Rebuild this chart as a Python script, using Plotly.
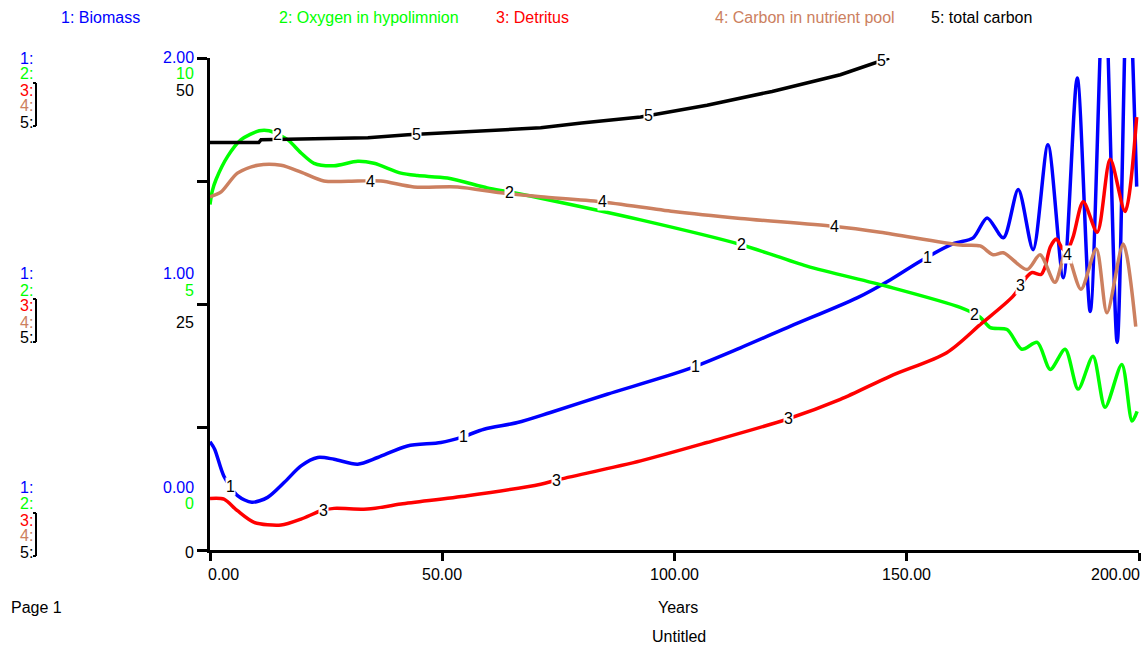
import numpy as np
import plotly.graph_objects as go

# ---------------- data ----------------
t_biomass = [0, 1, 3, 6, 9, 12.4, 16, 19.6, 23.2, 26.7, 31.8, 36.1, 42.5, 49.7, 54.4, 59,
             66.2, 73.3, 85.5, 102.7, 114.2, 125, 139.3, 146.5, 152.9, 160, 164.3, 167.3,
             170.8, 174, 177.2, 180.4, 183.7, 186.7, 189.5, 192.5, 195.3, 197.6, 199.5]
biomass = [0.44, 0.41, 0.30, 0.22, 0.194, 0.214, 0.275, 0.342, 0.376, 0.369, 0.349, 0.376,
           0.423, 0.437, 0.46, 0.491, 0.518, 0.559, 0.633, 0.734, 0.822, 0.910, 1.025, 1.099,
           1.174, 1.245, 1.269, 1.350, 1.269, 1.465, 1.221, 1.647, 1.107, 1.919, 0.97, 2.35,
           0.844, 2.4, 1.477]

t_oxygen = [0, 0.5, 1.3, 3.8, 6.7, 10.6, 12.7, 16.7, 19.6, 22.4, 26.7, 31.8, 35.3, 41.1,
            44.7, 51.1, 59.7, 64.3, 71.2, 92.7, 114.2, 128.5, 145.7, 161.5, 165.8, 168,
            171.6, 174.8, 178.1, 180.9, 184.1, 186.9, 190.1, 192.7, 196.3, 198.5, 199.6]
oxygen = [7.02, 7.3, 7.53, 8.0, 8.34, 8.52, 8.52, 8.34, 8.07, 7.86, 7.81, 7.90, 7.86, 7.66,
          7.61, 7.56, 7.36, 7.28, 7.15, 6.71, 6.21, 5.77, 5.36, 4.93, 4.73, 4.52, 4.48, 4.08,
          4.22, 3.67, 4.08, 3.27, 3.94, 2.90, 3.77, 2.62, 2.82]

t_detritus = [0, 3, 5.9, 9.5, 15.3, 19.6, 23.9, 26.7, 33.9, 41.1, 55.4, 71.2, 74.8, 92.7,
              107, 124.2, 135.7, 146.5, 158.6, 165.8, 172.9, 175.9, 177, 178.9, 179.8,
              180.9, 182.2, 183.4, 184.4, 185.8, 188, 191, 193.8, 197, 199.5]
detritus = [5.24, 5.17, 3.99, 2.81, 2.54, 3.14, 3.99, 4.23, 4.16, 4.67, 5.51, 6.69, 7.13,
            9.06, 10.92, 13.29, 15.31, 17.68, 20.05, 22.9, 25.8, 27.8, 28.2, 28.0, 28.8,
            30.8, 31.6, 30.7, 30.3, 31.8, 35.4, 32.3, 39.7, 34.4, 44.0]

t_carbon_pool = [0, 2.4, 5.9, 10.3, 15.3, 19.6, 24.5, 31.8, 36.8, 43.9, 53.3, 62.6, 71.2,
                 84.1, 99.8, 114.2, 134.2, 144.3, 161.5, 165.8, 168.6, 170.8, 175.9, 178.7,
                 181.9, 184.3, 187.5, 190.8, 193.1, 196.6, 199.3]
carbon_pool = [35.9, 36.4, 38.3, 39.1, 39.1, 38.4, 37.5, 37.5, 37.5, 36.9, 36.9, 36.3, 35.9,
               35.4, 34.4, 33.7, 32.9, 32.3, 31.0, 30.9, 30.0, 30.2, 28.5, 30.0, 27.2, 30.3,
               26.5, 30.6, 24.1, 31.1, 22.7]

t_total_carbon = [0, 10.5, 11, 20, 30, 34, 42.6, 55.5, 71.2, 80, 92.7, 107, 121, 135.7,
                  142.8, 146.2]
total_carbon = [41.4, 41.4, 41.7, 41.8, 41.9, 41.9, 42.2, 42.5, 42.9, 43.4, 44.0, 45.2,
                46.6, 48.3, 49.5, 50.0]

x_tick_values = [0, 50, 100, 150, 200]
x_tick_labels = ["0.00", "50.00", "100.00", "150.00", "200.00"]

names = ["1: Biomass", "2: Oxygen in hypolimnion", "3: Detritus",
         "4: Carbon in nutrient pool", "5: total carbon"]
colors = ["#0000FF", "#00FF00", "#FF0000", "#CC8060", "#000000"]

# ---------------- geometry ----------------
W, H = 1145, 646
L, R, T, B = 210, 1139, 58, 550
FONT = "Liberation Sans, Arial, sans-serif"
FS = 16


def px(xp, yp):
    return (xp - L) / (R - L), (B - yp) / (B - T)


fig = go.Figure()

series = [
    (t_biomass, biomass, "y", "spline"),
    (t_oxygen, oxygen, "y2", "spline"),
    (t_detritus, detritus, "y3", "spline"),
    (t_carbon_pool, carbon_pool, "y3", "spline"),
    (t_total_carbon, total_carbon, "y3", "linear"),
]

for i, (tt, vv, ya, shp) in enumerate(series):
    line = dict(color=colors[i], width=3.5, shape=shp)
    if shp == "spline":
        line["smoothing"] = 0.8
    fig.add_trace(go.Scatter(x=tt, y=vv, mode="lines", yaxis=ya, name=names[i],
                             line=line, showlegend=False, hoverinfo="skip"))

annotations = []
# line number labels along the curves
for i, (tt, vv, ya, _) in enumerate(series):
    k = 0
    while True:
        tl = 4.5 + 10 * i + 50 * k
        if tl > tt[-1]:
            break
        yv = float(np.interp(tl, tt, vv))
        annotations.append(dict(x=tl, y=yv, xref="x", yref=ya, text=str(i + 1),
                                showarrow=False, bgcolor="white", borderpad=0,
                                font=dict(family=FONT, size=FS, color="black")))
        k += 1

# top legend
legend_x = [59, 277, 494, 713, 929]
for i, nm in enumerate(names):
    xp, yp = px(legend_x[i], 17)
    annotations.append(dict(x=xp, y=yp, xref="paper", yref="paper", text=nm,
                            showarrow=False, xanchor="left", yanchor="middle",
                            font=dict(family=FONT, size=FS, color=colors[i])))

# left scale blocks
blocks = [
    ([58, 73, 90, 106, 122], [("2.00", 0, 57), ("10", 1, 73), ("50", 4, 90)], (83, 126)),
    ([273, 290, 305, 322, 337], [("1.00", 0, 273), ("5", 1, 290), ("25", 4, 322)], (299, 342)),
    ([487, 503, 520, 535, 552], [("0.00", 0, 487), ("0", 1, 503), ("0", 4, 552)], (513, 556)),
]
shapes = []
for ys, vals, (b0, b1) in blocks:
    for i, yp in enumerate(ys):
        xx, yy = px(18, yp)
        annotations.append(dict(x=xx, y=yy, xref="paper", yref="paper", text=f"{i + 1}:",
                                showarrow=False, xanchor="left", yanchor="middle",
                                font=dict(family=FONT, size=FS, color=colors[i])))
    for txt, ci, yp in vals:
        xx, yy = px(196, yp)
        annotations.append(dict(x=xx, y=yy, xref="paper", yref="paper", text=txt,
                                showarrow=False, xanchor="right", yanchor="middle",
                                font=dict(family=FONT, size=FS, color=colors[ci])))
    xa, ya0 = px(36, b0)
    _, ya1 = px(36, b1)
    xs, _ = px(33, b0)
    for (x0, y0, x1, y1) in [(xa, ya0, xa, ya1), (xs, ya0, xa, ya0), (xs, ya1, xa, ya1)]:
        shapes.append(dict(type="line", xref="paper", yref="paper", x0=x0, y0=y0,
                           x1=x1, y1=y1, line=dict(color="black", width=2)))

# x tick labels
for v, lab in zip(x_tick_values, x_tick_labels):
    anchor = "center"
    shift = 0
    if v == x_tick_values[0]:
        anchor, shift = "left", -4
    elif v == x_tick_values[-1]:
        anchor, shift = "right", 3
    _, yy = px(0, 574)
    annotations.append(dict(x=v, y=yy, xref="x", yref="paper", text=lab, showarrow=False,
                            xanchor=anchor, yanchor="middle", xshift=shift,
                            font=dict(family=FONT, size=FS, color="black")))

for txt, xp_, yp_, anc in [("Years", 678, 607, "center"), ("Untitled", 679, 636, "center"),
                           ("Page 1", 9, 607, "left")]:
    xx, yy = px(xp_, yp_)
    annotations.append(dict(x=xx, y=yy, xref="paper", yref="paper", text=txt,
                            showarrow=False, xanchor=anc, yanchor="middle",
                            font=dict(family=FONT, size=FS, color="black")))

fig.update_layout(
    width=W, height=H,
    margin=dict(l=L, r=W - R, t=T, b=H - B, pad=0),
    paper_bgcolor="white", plot_bgcolor="white",
    showlegend=False,
    font=dict(family=FONT, size=FS, color="black"),
    xaxis=dict(range=[0, 200], tickvals=x_tick_values, showticklabels=False,
               showline=True, linewidth=3, linecolor="black", ticks="outside",
               ticklen=8, tickwidth=3, tickcolor="black", showgrid=False, zeroline=False,
               fixedrange=True),
    yaxis=dict(range=[0, 2], tickvals=[0, 0.5, 1, 1.5, 2], showticklabels=False,
               showline=True, linewidth=3, linecolor="black", ticks="outside",
               ticklen=10, tickwidth=3, tickcolor="black", showgrid=False, zeroline=False,
               fixedrange=True),
    yaxis2=dict(range=[0, 10], overlaying="y", visible=False, fixedrange=True),
    yaxis3=dict(range=[0, 50], overlaying="y", visible=False, fixedrange=True),
    annotations=annotations,
    shapes=shapes,
)

fig.write_html("out.html", config={"displayModeBar": False})
